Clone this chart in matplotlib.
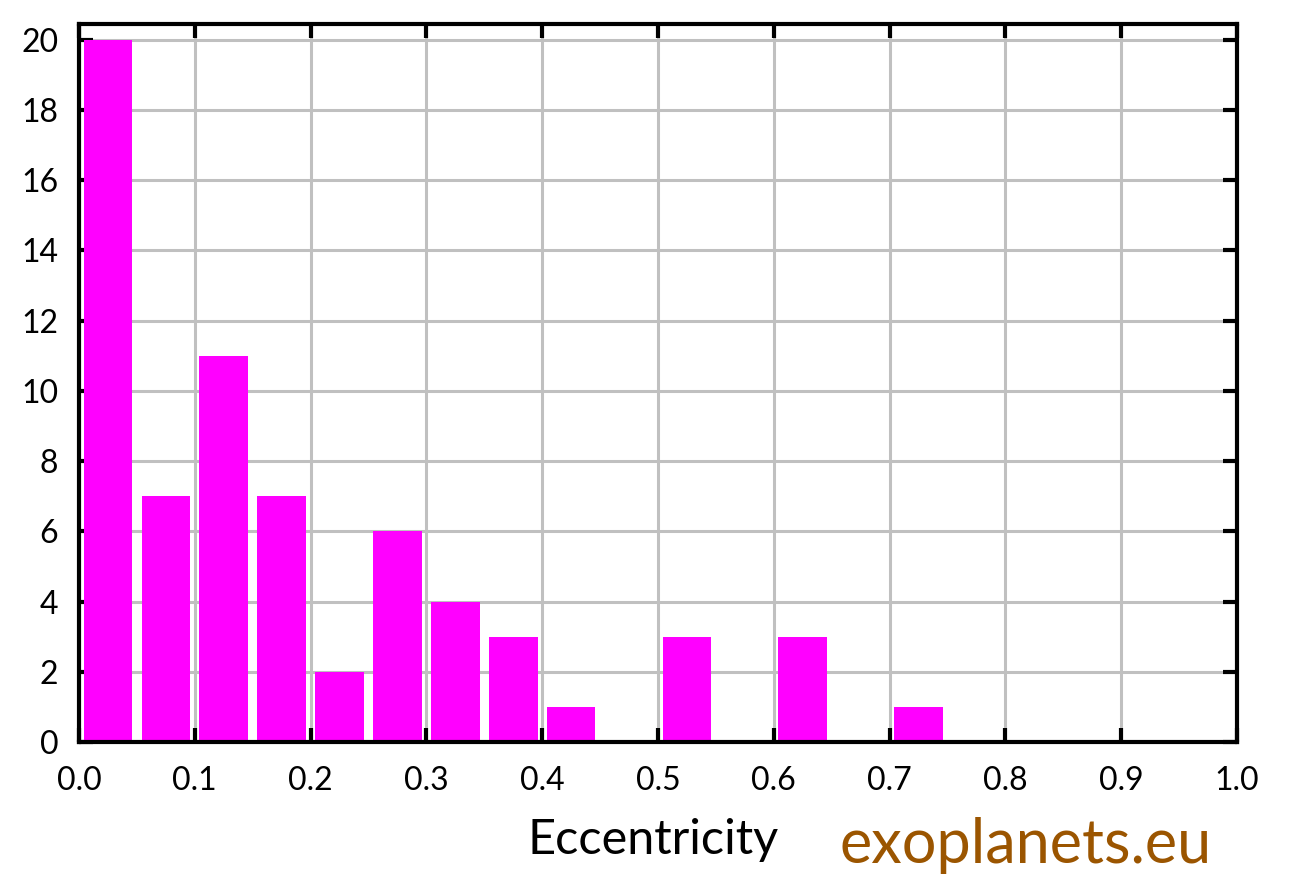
import numpy as np
import matplotlib
matplotlib.use('Agg')
from matplotlib import pyplot as plt

# histogram of eccentricity, bin width 0.05
bin_left = [0.00, 0.05, 0.10, 0.15, 0.20, 0.25, 0.30, 0.35, 0.40, 0.45,
            0.50, 0.55, 0.60, 0.65, 0.70, 0.75, 0.80, 0.85, 0.90, 0.95]
counts = [20, 7, 11, 7, 2, 6, 4, 3, 1, 0,
          3, 0, 3, 0, 1, 0, 0, 0, 0, 0]
xticks = [0.0, 0.1, 0.2, 0.3, 0.4, 0.5, 0.6, 0.7, 0.8, 0.9, 1.0]
yticks = [0, 2, 4, 6, 8, 10, 12, 14, 16, 18, 20]

plt.rcParams['font.family'] = ['Lato', 'DejaVu Sans']

fig = plt.figure(figsize=(12.93, 8.81), dpi=100)
ax = fig.add_axes([0.0611, 0.1578, 0.8956, 0.815])

left = np.array(bin_left) + 0.004
ax.bar(left, counts, width=0.042, align='edge', color='#ff00ff', zorder=3)

ax.set_xlim(0, 1.0)
ax.set_ylim(0, 20.45)
ax.set_xticks(xticks)
ax.set_xticklabels(['%.1f' % t for t in xticks])
ax.set_yticks(yticks)
ax.grid(True, color='#c0c0c0', linewidth=2.2, zorder=0)
ax.set_axisbelow(True)

for s in ax.spines.values():
    s.set_linewidth(3)
    s.set_zorder(5)
ax.tick_params(direction='in', length=10, width=3, labelsize=23,
               top=True, right=True, pad=15)
ax.tick_params(axis='x', pad=17)

fig.text(0.505, 0.046, 'Eccentricity', fontsize=35, ha='center', va='center')
fig.text(0.793, 0.040, 'exoplanets.eu', fontsize=44, ha='center', va='center',
         color='#9b5500')

fig.savefig('out.png', dpi=100)
